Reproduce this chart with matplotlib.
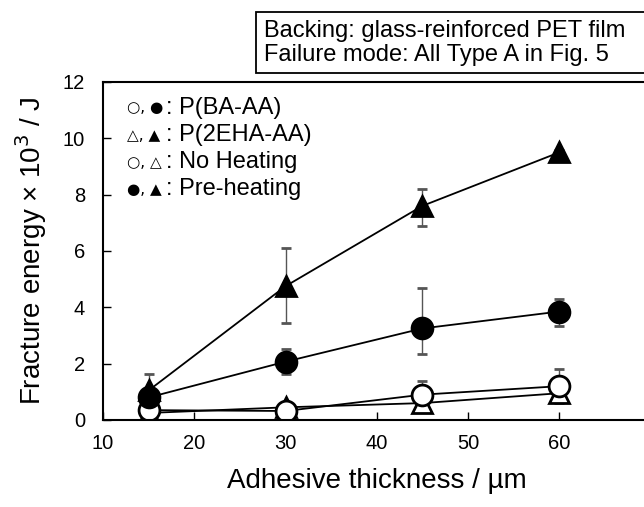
import numpy as np
import matplotlib.pyplot as plt
from matplotlib.patches import Rectangle

plt.rcParams['font.family'] = ['Liberation Sans', 'DejaVu Sans']

# adhesive thickness (um)
thickness = [15, 30, 45, 60]

# fracture energy x 10^3 / J
pre_2eha = [1.05, 4.75, 7.6, 9.5]
pre_2eha_lo = [0.5, 1.3, 0.7, 0.1]
pre_2eha_hi = [0.6, 1.35, 0.6, 0.1]

pre_ba = [0.8, 2.07, 3.25, 3.85]
pre_ba_lo = [0.3, 0.45, 0.9, 0.5]
pre_ba_hi = [0.3, 0.45, 1.45, 0.45]

no_ba = [0.35, 0.32, 0.9, 1.2]
no_ba_err = [0.15, 0.1, 0.5, 0.6]

no_2eha = [0.25, 0.45, 0.6, 0.95]
no_2eha_err = [0.05, 0.1, 0.1, 0.1]

legend_syms = ['\u25cb, \u25cf', '\u25b3, \u25b2', '\u25cb, \u25b3', '\u25cf, \u25b2']
legend_text = [': P(BA-AA)', ': P(2EHA-AA)', ': No Heating', ': Pre-heating']

fig = plt.figure(figsize=(6.44, 5.07), dpi=100)
ax = fig.add_axes([0.16, 0.1716, 0.85, 0.6667])

ebar = dict(ecolor='#555555', elinewidth=1.0, capsize=3.5, capthick=1.0)
line = dict(color='black', lw=1.3, markersize=15, markeredgewidth=2.0)

ax.errorbar(thickness, no_2eha, yerr=no_2eha_err, marker='^', mfc='white', mec='black', **line, **ebar)
ax.errorbar(thickness, no_ba, yerr=no_ba_err, marker='o', mfc='white', mec='black', **line, **ebar)
ax.errorbar(thickness, pre_ba, yerr=[pre_ba_lo, pre_ba_hi], marker='o', mfc='black', mec='black', **line, **ebar)
ax.errorbar(thickness, pre_2eha, yerr=[pre_2eha_lo, pre_2eha_hi], marker='^', mfc='black', mec='black', **line, **ebar)

ax.set_xlim(10, 70)
ax.set_ylim(0, 12)
ax.set_xticks([10, 20, 30, 40, 50, 60])
ax.set_yticks([0, 2, 4, 6, 8, 10, 12])
ax.tick_params(direction='in', length=6, width=1, labelsize=14.5, pad=10)
ax.tick_params(axis='y', pad=13)
for s in ax.spines.values():
    s.set_linewidth(1.5)
ax.spines['right'].set_visible(False)

ax.set_xlabel('Adhesive thickness / \u00b5m', fontsize=20, labelpad=11)
ax.set_ylabel('Fracture energy \u00d7 10$^3$ / J', fontsize=20, labelpad=10)

# legend made of text rows
for i, (sym, txt) in enumerate(zip(legend_syms, legend_text)):
    y = 1 - (108 + 27 * i) / 507
    fig.text(127 / 644, y, sym, fontsize=11, family='DejaVu Sans', va='center')
    fig.text(166 / 644, y, txt, fontsize=17, va='center')

# note box, cut off at the right edge like the original
fig.patches.append(Rectangle((256 / 644, 1 - 73 / 507), 420 / 644, 61 / 507,
                             transform=fig.transFigure, fc='white', ec='black', lw=1.3))
fig.text(264 / 644, 1 - 43 / 507,
         'Backing: glass-reinforced PET film\nFailure mode: All Type A in Fig. 5',
         fontsize=17, va='center', ha='left', linespacing=1.15)

fig.savefig('out.png', dpi=100)
